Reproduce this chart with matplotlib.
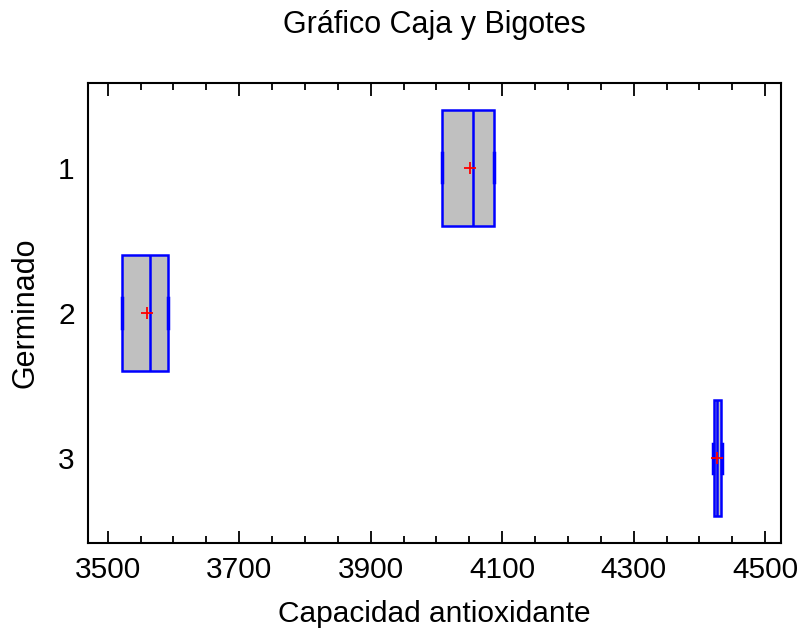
import numpy as np
import matplotlib.pyplot as plt
from matplotlib.ticker import MultipleLocator, FixedLocator

plt.rcParams['font.family'] = ['Liberation Sans', 'DejaVu Sans']

groups = ["1", "2", "3"]
q1 = [4008, 3522, 4422]
q3 = [4088, 3592, 4433]
med = [4056, 3564, 4427]
mean = [4051, 3559, 4426]
whislo = [4008, 3522, 4421]
whishi = [4088, 3592, 4434]
xticks = [3500, 3700, 3900, 4100, 4300, 4500]

stats = []
for i in range(len(groups)):
    stats.append(dict(label=groups[i], q1=q1[i], q3=q3[i], med=med[i],
                      mean=mean[i], whislo=whislo[i], whishi=whishi[i], fliers=[]))

fig = plt.figure(figsize=(7.99, 6.34), dpi=100)
ax = fig.add_axes([88 / 799, 1 - 543 / 634, 693 / 799, 460 / 634])

pos = np.arange(1, len(groups) + 1)
ax.bxp(stats, positions=pos, vert=False, widths=0.8, patch_artist=True,
       showmeans=True, showcaps=True, capwidths=0.2,
       boxprops=dict(facecolor="#c0c0c0", edgecolor="#0000ff", linewidth=1.8),
       medianprops=dict(color="#0000ff", linewidth=1.8),
       whiskerprops=dict(color="#0000ff", linewidth=1.8),
       capprops=dict(color="#0000ff", linewidth=2.5),
       meanprops=dict(marker="+", markeredgecolor="red", markersize=8, markeredgewidth=1.3))

ax.set_xlim(3470, 4524)
ax.set_ylim(3.586, 0.414)
ax.set_yticks(pos)
ax.set_yticklabels(groups)
ax.xaxis.set_major_locator(FixedLocator(xticks))
ax.xaxis.set_minor_locator(MultipleLocator(50))
ax.tick_params(axis="x", which="both", direction="in", top=True, labelsize=21.5, pad=9, width=1.3)
ax.tick_params(axis="x", which="major", length=9)
ax.tick_params(axis="x", which="minor", length=5)
ax.tick_params(axis="y", length=0, labelsize=21.5, pad=9.5)
for s in ax.spines.values():
    s.set_linewidth(1.5)

ax.set_title("Gráfico Caja y Bigotes", fontsize=22, pad=36)
ax.set_xlabel("Capacidad antioxidante", fontsize=21.5)
ax.xaxis.set_label_coords(0.5, -0.124)
ax.set_ylabel("Germinado", fontsize=22)
ax.yaxis.set_label_coords(-0.069, 0.5)

fig.savefig("out.png", dpi=100)
